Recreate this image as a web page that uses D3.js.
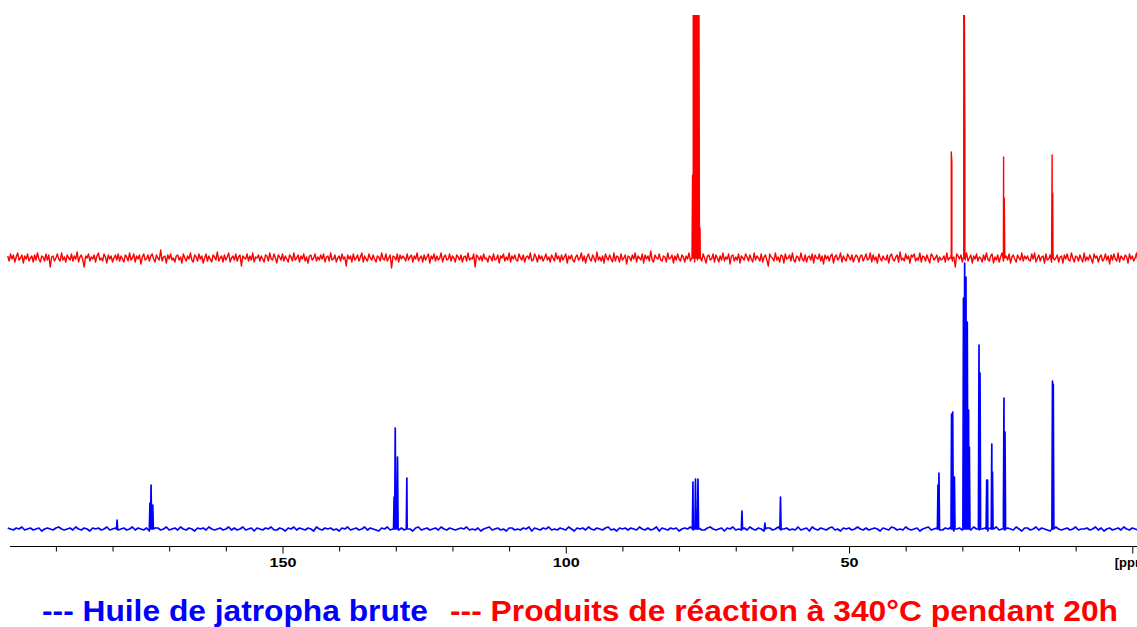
<!DOCTYPE html>
<html><head><meta charset="utf-8">
<script src="https://cdn.jsdelivr.net/npm/d3@7"></script>
<style>body{margin:0;background:#fff;overflow:hidden}svg{display:block}</style>
</head><body>
<svg id="c" width="1137" height="627"></svg>
<script>
// ---------- DATA (chemical shift in ppm, intensity in arbitrary units) ----------
const axisMajorTicks = [150, 100, 50, 0];
const axisMajorLabels = ["150", "100", "50", "[ppm]"];
const axisMinorTicks = [190, 180, 170, 160, 140, 130, 120, 110, 90, 80, 70, 60, 40, 30, 20, 10];

// Red spectrum: reaction products at 340 °C for 20 h
const redPeakPpm    = [77.62, 77.5, 77.38, 77.25, 77.12, 77.0, 76.88, 76.75, 76.62, 76.5, 76.3,
                       31.95, 31.85, 29.75, 29.65, 29.55, 22.72, 22.6, 14.15, 14.05];
const redPeakHeight = [83, 300, 300, 300, 300, 300, 300, 300, 300, 300, 30,
                       106, 96, 300, 260, 124, 101, 60, 103, 65];
const redNoiseStartPpm = 198.5, redNoiseStepPpm = 0.25;
const redNoise = [
 2,-3,4,-1,3,-4,1,5,-2,0,3,-5,2,-1,4,-3,0,2,-4,3,
 -2,5,-1,-4,2,1,-3,4,-2,3,-9,1,2,-3,0,4,-1,-3,5,-2,
 1,-4,3,0,-2,4,-3,2,-1,6,-4,1,3,-2,-9,2,0,4,-3,1,
 -1,3,-4,2,5,-2,0,-3,4,1,-5,3,-1,2,-4,0,3,-2,4,-3,
 2,-1,-4,3,1,-3,5,-2,0,4,-4,2,-1,3,-6,1,4,-2,-1,3,
 -3,2,4,-1,-4,3,0,-2,8,-3,1,2,-5,3,-1,4,-2,0,-4,2,
 3,-2,1,-5,4,0,-3,2,-1,5,-2,-4,3,1,-3,4,-1,2,-5,0,
 4,-3,2,-1,-4,3,1,-2,6,-3,0,2,-4,3,-2,1,5,-4,0,2,
 -2,4,-3,1,3,-8,2,0,-1,4,-3,2,-2,5,-4,1,0,3,-3,2,
 -1,-4,3,2,-3,5,-1,-2,4,0,-5,3,1,-2,4,-3,2,-1,-4,3,
 1,-3,5,-2,0,3,-4,2,-1,4,-3,1,-5,2,3,-2,0,4,-3,1,
 -2,3,-1,4,-4,1,2,-3,5,-2,-1,3,-4,0,2,-3,4,-1,1,-8,
 3,-1,2,-4,4,-2,0,3,-3,1,5,-4,2,-1,-3,4,0,-2,3,-1,
 -4,2,1,-3,5,-1,-2,4,-3,0,3,-10,2,1,-2,4,-4,3,-1,2,
 0,-3,4,-2,1,3,-4,2,-1,5,-3,0,2,-4,3,-2,1,4,-5,2,
 -1,4,-3,2,-2,0,5,-4,1,3,-2,-1,4,-3,2,0,-4,3,1,-2,
 3,-4,1,2,-3,5,-2,0,-1,4,-9,3,1,-2,2,-3,4,-1,0,-4,
 2,1,-3,4,-2,-1,3,-5,2,0,4,-3,1,-2,5,-4,2,-1,3,-2,
 -3,4,0,-2,3,-4,1,2,-1,5,-3,-2,4,1,-4,3,-1,2,-3,0,
 4,-2,1,-4,3,0,-3,5,-1,2,-4,3,-2,1,4,-5,2,-1,3,-2,
 -4,1,3,-2,0,5,-3,2,-5,1,4,-1,-3,3,0,-4,6,-2,1,-3,
 2,-5,4,0,-2,3,-1,-4,5,-3,2,1,-4,4,-2,0,3,-6,2,1,
 -3,3,-1,5,-4,2,0,-2,4,-5,3,-1,2,-3,7,-2,-4,3,0,-1,
 4,-2,-3,2,1,-4,5,-1,0,3,-5,2,-2,4,-1,-3,3,1,-4,2,
 -1,5,-3,0,2,-4,3,-2,6,-1,-3,4,0,-5,2,3,-2,-1,4,-4,
 3,0,-4,2,-2,5,-3,1,-1,4,-6,2,3,-3,1,-2,4,-5,2,0,
 -2,4,1,-3,3,-1,-4,5,-2,2,0,-3,4,-4,1,3,-2,-8,4,1,
 0,-3,5,-2,1,-4,3,2,-5,4,-1,0,3,-3,5,-2,-4,2,1,-3,
 5,-1,-3,3,-4,1,2,-2,4,-5,3,0,-1,4,-3,2,-6,3,-1,2,
 -3,2,4,-5,1,3,-2,0,5,-4,2,-1,-3,4,1,-2,3,-4,0,3,
 1,-4,2,3,-3,0,4,-2,-1,5,-4,3,-2,1,-5,4,0,-3,2,-1,
 -2,3,-5,2,4,-1,-3,1,3,-4,6,-2,0,-3,4,-1,2,-5,3,1,
 4,-3,0,-2,5,-4,2,1,-3,3,-1,-5,4,2,-2,0,3,-4,1,-2,
 -1,2,-4,5,-2,0,3,-3,1,-9,4,2,-1,3,-4,1,-2,5,-3,0,
 3,-5,2,-1,4,-3,1,0,-4,3,-2,5,-1,-3,2,4,-5,1,-2,3,
 -4,1,5,-3,0,2,-2,4,-5,1,3,-1,-4,3,0,-2,5,-3,2,-1,
 2,-2,-3,4,-1,5,-4,0,3,-3,1,2,-5,4,-2,-1,3,-4,6,-2,
 0,3,-4,1,2,-5,3,-1,4,-2,-3,5,0,-4,2,1,-3,3,-1,-4,
 5,-3,1,-2,3,-1,-5,4,0,2,-4,1,3,-3,-1,4,-2,2,-6,3,
 -2,4,-1,-3,5,-4,2,0,-2,3,1,-5,4,-1,2,-3,0,5,-4,1
];

// Blue spectrum: crude jatropha oil
const bluePeakPpm = [179.2, 173.4, 173.2, 172.9, 130.3, 130.1, 129.7, 128.05,
  77.55, 77.1, 76.66, 68.9, 64.85, 62.1, 34.3, 34.13, 31.9, 31.7, 31.4,
  29.8, 29.59, 29.36, 29.13, 28.9, 28.76, 27.06, 26.88, 25.7, 25.55, 24.8, 24.68,
  22.74, 22.65, 22.47, 14.09, 13.95];
const bluePeakHeight = [9, 26, 44, 24, 32, 101, 72, 51,
  47, 50, 50, 18, 6, 32, 44, 56, 115, 117, 52,
  231, 266, 252, 207, 119, 82, 184, 156, 49, 49, 85, 57,
  24, 131, 97, 148, 145];
const blueNoiseStartPpm = 198.5, blueNoiseStepPpm = 0.5;
const blueNoise = [
 1,0,-1,1,0,2,-1,0,1,-1,0,1,-2,0,1,0,-1,1,2,0,
 -1,0,1,-1,2,0,-1,1,0,-2,1,0,1,-1,0,2,-1,0,1,-1,
 0,1,-1,0,2,-1,1,0,-1,1,-2,0,1,1,-1,0,2,-1,0,1,
 -1,2,0,-1,1,0,-2,1,0,1,-1,2,0,-1,0,1,-1,0,2,-1,
 1,-1,0,2,-1,0,1,-2,1,0,-1,1,0,2,-1,-1,1,0,-2,1,
 0,2,-1,1,0,-1,1,0,-2,2,0,-1,1,0,1,-1,0,-2,1,0,
 2,-1,0,1,-1,0,2,-1,1,0,-1,-2,1,0,2,-1,0,1,-1,1,
 -1,1,0,-2,1,2,-1,0,1,-1,0,1,-1,2,0,-1,1,0,-1,0,
 1,0,2,-1,0,-1,1,-2,0,1,2,-1,0,1,-1,0,-2,1,1,-1,
 0,-1,1,0,2,-2,1,0,-1,1,0,2,-1,0,-1,1,0,-1,2,0,
 -2,1,0,1,-1,2,0,-1,1,0,-1,1,2,-1,0,-2,1,0,1,-1,
 1,0,-1,2,0,-1,1,-1,0,2,-2,1,0,-1,1,0,1,-2,0,1,
 0,2,-1,0,1,-1,-1,1,2,0,-1,0,1,-2,1,0,2,-1,0,-1,
 1,-1,2,0,-1,1,0,-2,1,1,-1,0,2,-1,0,1,-1,0,-1,2,
 -1,0,1,-2,2,0,-1,1,0,-1,1,2,-1,0,-2,1,0,1,-1,0,
 2,0,-1,1,-1,0,1,0,-2,1,0,-1,2,1,-1,0,-1,2,0,-1,
 0,1,-2,0,1,2,-1,0,1,-1,-1,1,0,2,-2,0,1,-1,1,0,
 -1,2,0,-1,0,1,-2,1,0,2,-1,0,-1,1,0,-1,2,0,-2,1,
 1,-1,0,2,-1,1,0,-1,-2,1,2,0,-1,0,1,-1,0,2,-1,0,
 0,1,-1,0,2,-1,1,-2,0,1,-1,0,1,-1,2,0,-1,1,0,-1
];

const legendItems = ["--- Huile de jatropha brute", "--- Produits de réaction à 340°C pendant 20h"];
const legendColors = ["#0000ff", "#ff0000"];

// ---------- DRAWING ----------
const svg = d3.select("#c");
const W = 1137, H = 627;
const x = d3.scaleLinear().domain([198.1, 0]).range([10, 1132.3]);
const yRed = d3.scaleLinear().domain([0, 243]).range([258, 15]);
const yBlue = d3.scaleLinear().domain([0, 266]).range([529, 263]);

function buildTrace(noise, start, step, peakPpm, peakH, halfWidth) {
  const pts = noise.map((v, i) => [start - i * step, v]);
  peakPpm.forEach((p, i) => { pts.push([p + halfWidth, 0], [p, peakH[i]], [p - halfWidth, 0]); });
  pts.sort((a, b) => b[0] - a[0]);
  return pts;
}

svg.append("defs").append("clipPath").attr("id", "clipTop")
  .append("rect").attr("x", 0).attr("y", 15).attr("width", W).attr("height", H);

const redPts = buildTrace(redNoise, redNoiseStartPpm, redNoiseStepPpm, redPeakPpm, redPeakHeight, 0.1);
const bluePts = buildTrace(blueNoise, blueNoiseStartPpm, blueNoiseStepPpm, bluePeakPpm, bluePeakHeight, 0.1);

svg.append("path")
  .attr("d", d3.line().x(d => x(d[0])).y(d => yBlue(d[1]))(bluePts))
  .attr("fill", "none").attr("stroke", "#0000ff").attr("stroke-width", 1.7)
  .attr("stroke-linejoin", "round");

svg.append("path")
  .attr("clip-path", "url(#clipTop)")
  .attr("d", d3.line().x(d => x(d[0])).y(d => yRed(d[1]))(redPts))
  .attr("fill", "none").attr("stroke", "#ff0000").attr("stroke-width", 1.4)
  .attr("stroke-linejoin", "round");

// axis
const axisY = 546.5;
svg.append("line").attr("x1", 10).attr("x2", W).attr("y1", axisY).attr("y2", axisY)
  .attr("stroke", "#000").attr("stroke-width", 1);

const minorAxis = d3.axisBottom(x).tickValues(axisMinorTicks).tickSize(5).tickFormat("");
const gMin = svg.append("g").attr("transform", `translate(0,${axisY})`).call(minorAxis);
gMin.select(".domain").remove();

const majorAxis = d3.axisBottom(x).tickValues(axisMajorTicks).tickSize(7).tickPadding(4)
  .tickFormat((d, i) => axisMajorLabels[i]);
const gMaj = svg.append("g").attr("transform", `translate(0,${axisY})`).call(majorAxis);
gMaj.select(".domain").remove();
gMaj.selectAll("text").attr("font-family", "'Liberation Sans', Arial, sans-serif")
  .attr("font-weight", "bold").attr("font-size", 13).attr("fill", "#000")
  .each(function (d, i) {
    const lab = axisMajorLabels[i];
    if (/^\d+$/.test(lab)) d3.select(this).attr("textLength", lab.length * 9).attr("lengthAdjust", "spacingAndGlyphs");
  });
svg.selectAll(".tick line").attr("stroke", "#000");

// legend
const legendX = [42, 450], legendLen = [386, 668];
legendItems.forEach((t, i) => {
  svg.append("text").attr("x", legendX[i]).attr("y", 621)
    .attr("font-family", "'Liberation Sans', Arial, sans-serif")
    .attr("font-weight", "bold").attr("font-size", 29)
    .attr("fill", legendColors[i])
    .attr("textLength", legendLen[i]).attr("lengthAdjust", "spacingAndGlyphs")
    .text(t);
});
</script>
</body></html>
